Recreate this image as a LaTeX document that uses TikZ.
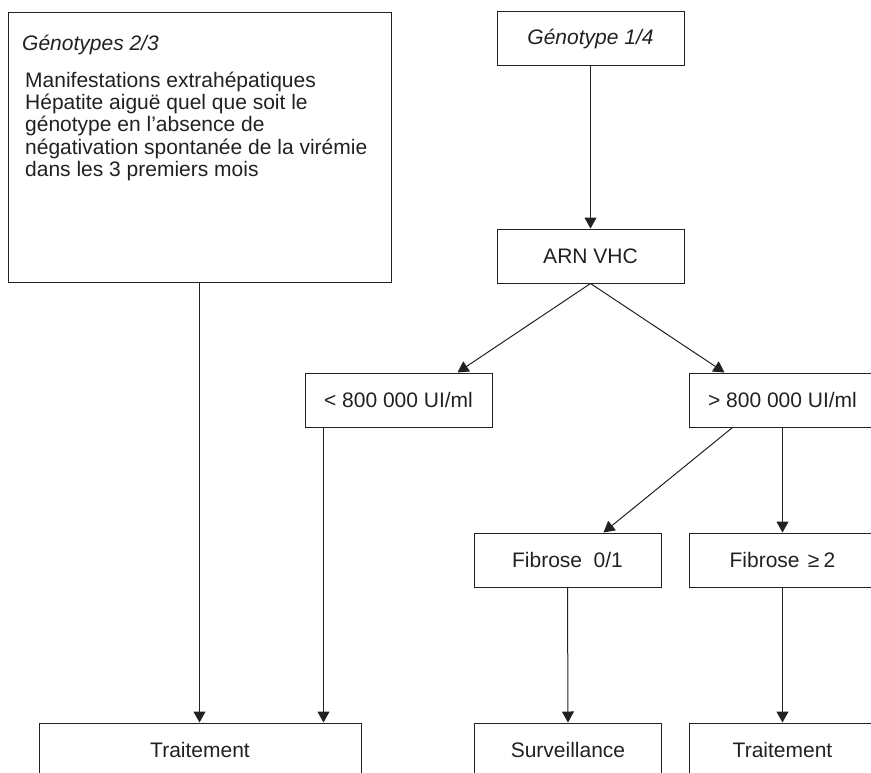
\documentclass[tikz,border=0pt]{standalone}
\usepackage{fontspec}
\setmainfont{Liberation Sans}
\usetikzlibrary{arrows.meta}
\definecolor{ink}{gray}{0.13}
\tikzset{
  box/.style={draw=ink, line width=1pt, minimum width=187pt, minimum height=54pt, inner sep=0pt, text=ink, font=\fontsize{21}{25}\selectfont},
  arr/.style={draw=ink, line width=1pt, -{Triangle[length=11pt,width=12pt]}},
  txt/.style={inner sep=0pt, text=ink, anchor=base west, font=\fontsize{21}{25}\selectfont}
}
\begin{document}
\begin{tikzpicture}[x=1pt,y=-1pt]
\useasboundingbox (0,0) rectangle (871,772);
\clip (0,0) rectangle (871,772);
% left column
\node[box, minimum width=383pt, minimum height=270pt] (gbox) at (199.5,147) {};
\node[txt] (gt) at (22,50) {\itshape Génotypes 2/3};
\node[txt] (l1) at (25,87) {Manifestations extrahépatiques};
\node[txt] (l2) at (25,109.4) {Hépatite aiguë quel que soit le};
\node[txt] (l3) at (25,131.8) {génotype en l’absence de};
\node[txt] (l4) at (25,154.2) {négativation spontanée de la virémie};
\node[txt] (l5) at (25,176.6) {dans les 3 premiers mois};
% right column
\node[box] (g14) at (590.5,38.5) {\itshape Génotype 1/4};
\node[box] (arn) at (590.5,256) {ARN VHC};
\node[box] (low) at (398.5,400) {< 800 000 UI/ml};
\node[box] (high) at (782.5,400) {> 800 000 UI/ml};
\node[box] (f01) at (567.5,560) {Fibrose\hspace{0.55em}0/1};
\node[box] (f2) at (782.5,560) {Fibrose\hspace{0.4em}≥\hspace{0.2em}2};
% bottom row
\node[box, minimum width=322pt] (tl) at (200,750) {Traitement};
\node[box] (surv) at (568,750) {Surveillance};
\node[box] (t2) at (782.5,750) {Traitement};
% connectors
\draw[arr] (gbox.south) -- (gbox.south |- tl.north);
\draw[arr] ([xshift=19pt]low.south west) -- ([xshift=19pt]low.south west |- tl.north);
\draw[arr] (g14.south) -- (arn.north);
\draw[arr] (arn.south) -- ([xshift=-35pt]low.north east);
\draw[arr] (arn.south) -- ([xshift=36pt]high.north west);
\draw[arr] ([xshift=44pt]high.south west) -- ([xshift=-58pt]f01.north east);
\draw[arr] (high.south) -- (f2.north);
\draw[arr] (f01.south) -- (surv.north);
\draw[arr] (f2.south) -- (t2.north);
\end{tikzpicture}
\end{document}
